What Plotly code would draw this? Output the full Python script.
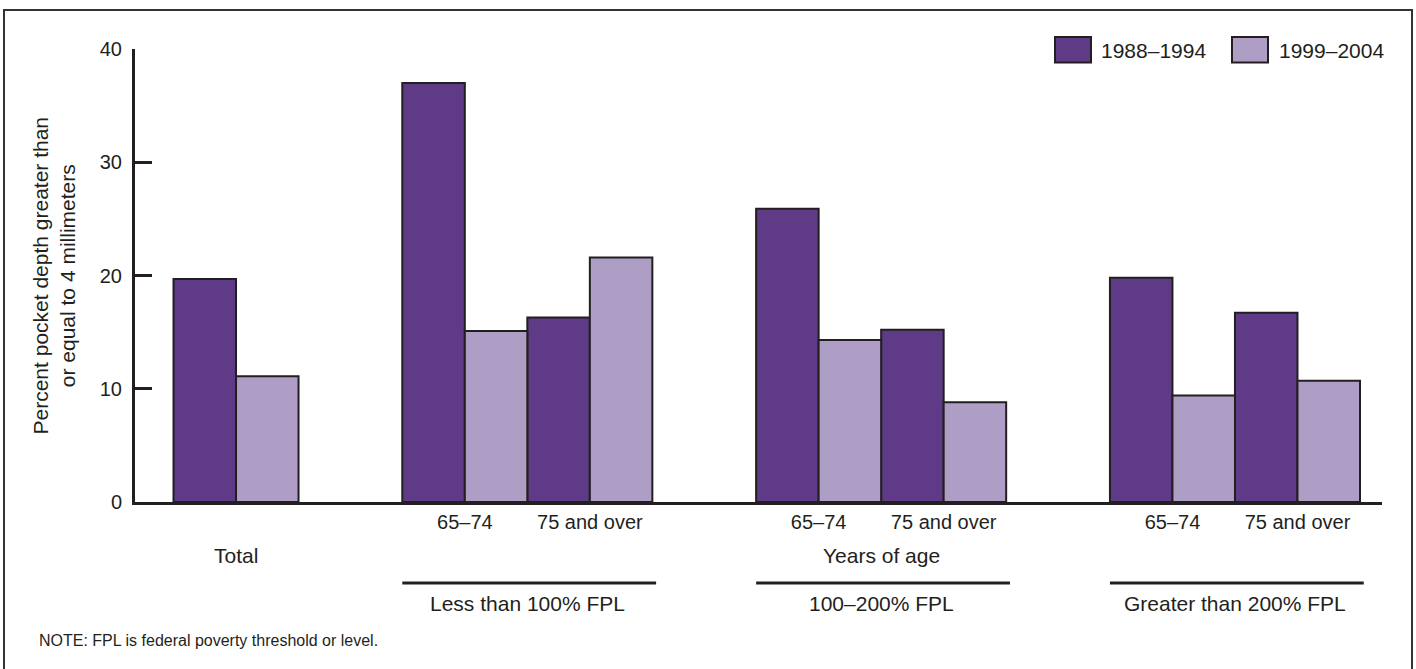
import plotly.graph_objects as go

# ---- data ----
groups = ["Total", "Less than 100% FPL", "100–200% FPL", "Greater than 200% FPL"]
group_ages = [[""], ["65–74", "75 and over"], ["65–74", "75 and over"], ["65–74", "75 and over"]]
series_names = ["1988–1994", "1999–2004"]
values_1988 = [19.7, 37.0, 16.3, 25.9, 15.2, 19.8, 16.7]
values_1999 = [11.1, 15.1, 21.6, 14.3, 8.8, 9.4, 10.7]
y_ticks = [0, 10, 20, 30, 40]

# ---- layout helpers ----
DARK = "#5e3a87"
LIGHT = "#ae9ec6"
INK = "#231f20"
FONT = "Liberation Sans, Arial, Helvetica, sans-serif"

W, H = 1416, 669
ML, MR, MT, MB = 135, 34, 49, 167
PW, PH = W - ML - MR, H - MT - MB

gap = 0.83
positions, tick_text, group_span = [], [], []
pos = 0.0
for ages in group_ages:
    start = pos
    for i, a in enumerate(ages):
        positions.append(pos + i)
        tick_text.append(a)
    group_span.append((start, pos + len(ages) - 1))
    pos = pos + len(ages) - 1 + 1 + gap

x_min, x_max = -0.808, 9.166

def px_x(px):
    return (px - ML) / PW

def px_y(py):
    return (H - MB - py) / PH

fig = go.Figure()
fig.add_trace(go.Bar(
    x=positions, y=values_1988, name=series_names[0],
    width=0.5, offset=-0.5,
    marker=dict(color=DARK, line=dict(color=INK, width=2)),
    showlegend=False,
))
fig.add_trace(go.Bar(
    x=positions, y=values_1999, name=series_names[1],
    width=0.5, offset=0.0,
    marker=dict(color=LIGHT, line=dict(color=INK, width=2)),
    showlegend=False,
))

annotations = []
shapes = []

def label(text, x, y, xref="x", xanchor="center", size=21, angle=0):
    return dict(x=x, y=y, xref=xref, yref="paper", text=text, showarrow=False,
                xanchor=xanchor, yanchor="middle", textangle=angle,
                font=dict(size=size, color=INK, family=FONT))

# Total label and "Years of age"
annotations.append(label(groups[0], positions[0], px_y(555)))
mid = group_span[2]
annotations.append(label("Years of age", (mid[0] + mid[1]) / 2, px_y(555)))

# group lines and labels
for g in range(1, len(groups)):
    s, e = group_span[g]
    shapes.append(dict(type="line", xref="x", yref="paper",
                       x0=s - 0.5, x1=e + 0.53, y0=px_y(583), y1=px_y(583),
                       line=dict(color=INK, width=3)))
    annotations.append(label(groups[g], (s + e) / 2, px_y(603)))

# note
annotations.append(label("NOTE: FPL is federal poverty threshold or level.",
                         px_x(37), px_y(640), xref="paper", xanchor="left", size=16))

# y axis title
annotations.append(label("Percent pocket depth greater than<br>or equal to 4 millimeters",
                         px_x(53), 0.5, xref="paper", xanchor="center", size=21, angle=-90))

# legend (custom swatches)
legend_items = [(series_names[0], DARK, 1055, 1099), (series_names[1], LIGHT, 1232, 1277)]
for name, col, bx, tx in legend_items:
    shapes.append(dict(type="rect", xref="paper", yref="paper",
                       x0=px_x(bx), x1=px_x(bx + 36), y0=px_y(62.5), y1=px_y(37),
                       fillcolor=col, line=dict(color=INK, width=2)))
    annotations.append(label(name, px_x(tx), px_y(50), xref="paper", xanchor="left"))

# outer border
shapes.append(dict(type="rect", xref="paper", yref="paper",
                   x0=px_x(4), x1=px_x(1412), y0=px_y(672), y1=px_y(10),
                   line=dict(color="#333333", width=2), fillcolor="rgba(0,0,0,0)"))

fig.update_layout(
    width=W, height=H,
    margin=dict(l=ML, r=MR, t=MT, b=MB),
    paper_bgcolor="white", plot_bgcolor="white",
    barmode="overlay",
    font=dict(family=FONT, color=INK, size=20),
    annotations=annotations,
    shapes=shapes,
    xaxis=dict(range=[x_min, x_max], tickmode="array", tickvals=positions, ticktext=tick_text,
               showline=True, linecolor=INK, linewidth=3, ticks="", showgrid=False,
               zeroline=False, tickfont=dict(size=20, color=INK, family=FONT)),
    yaxis=dict(range=[0, 40], tickmode="array", tickvals=y_ticks,
               showline=True, linecolor=INK, linewidth=3, ticks="inside", ticklen=17,
               tickwidth=3, tickcolor=INK, showgrid=False, zeroline=False,
               ticklabelstandoff=6,
               tickfont=dict(size=20, color=INK, family=FONT)),
)

fig.write_html("out.html", config={"displayModeBar": False},
               post_script="document.body.style.margin='0px';")
